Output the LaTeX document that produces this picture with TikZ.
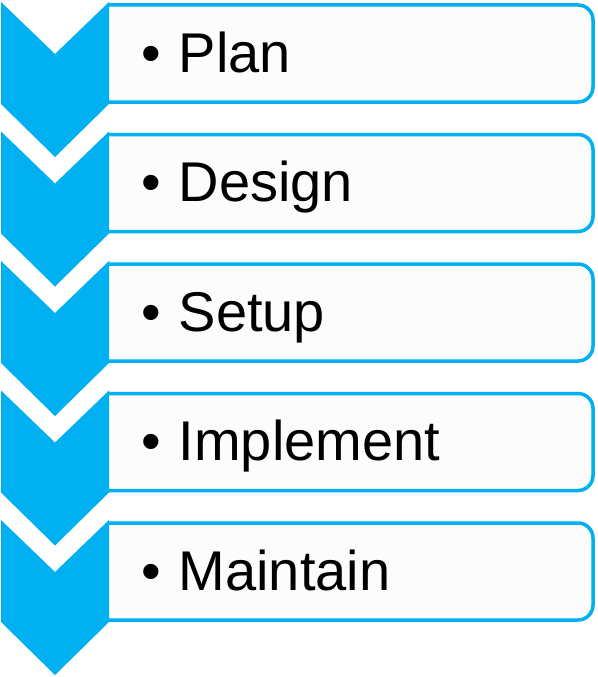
\documentclass[tikz,border=0pt]{standalone}
\usepackage{fontspec}
\setmainfont{Liberation Sans}
\definecolor{chevblue}{RGB}{0,176,240}
\definecolor{boxgray}{RGB}{252,252,252}

\begin{document}
\begin{tikzpicture}[x=1pt, y=-1pt,
	boxline/.style={draw=chevblue, line width=3.5pt, fill=boxgray, rounded corners=15pt},
	chevron/.style={fill=chevblue, draw=none},
	steplabel/.style={anchor=base west, inner sep=0pt, font=\fontsize{56}{60}\selectfont}]
	\useasboundingbox (0,0) rectangle (597,677);
	% Steps are organized from top to bottom
	\foreach \name [count=\i from 0] in {Plan,Design,Setup,Implement,Maintain}{
		\pgfmathsetmacro{\dy}{129.5*\i}
		% Box of the step
		\draw[boxline] (109,5+\dy) -- (593,5+\dy) -- (593,102+\dy) -- (109,102+\dy);
		% Chevron of the step
		\fill[chevron] (1,2+\dy) -- (55,54+\dy) -- (109,2+\dy) -- (109,104+\dy) -- (55,157+\dy) -- (1,104+\dy) -- cycle;
		% Label of the step
		\node[steplabel] (step\i) at (141,72+\dy) {\textbullet\hspace{18pt}\name};
	}
\end{tikzpicture}
\end{document}
